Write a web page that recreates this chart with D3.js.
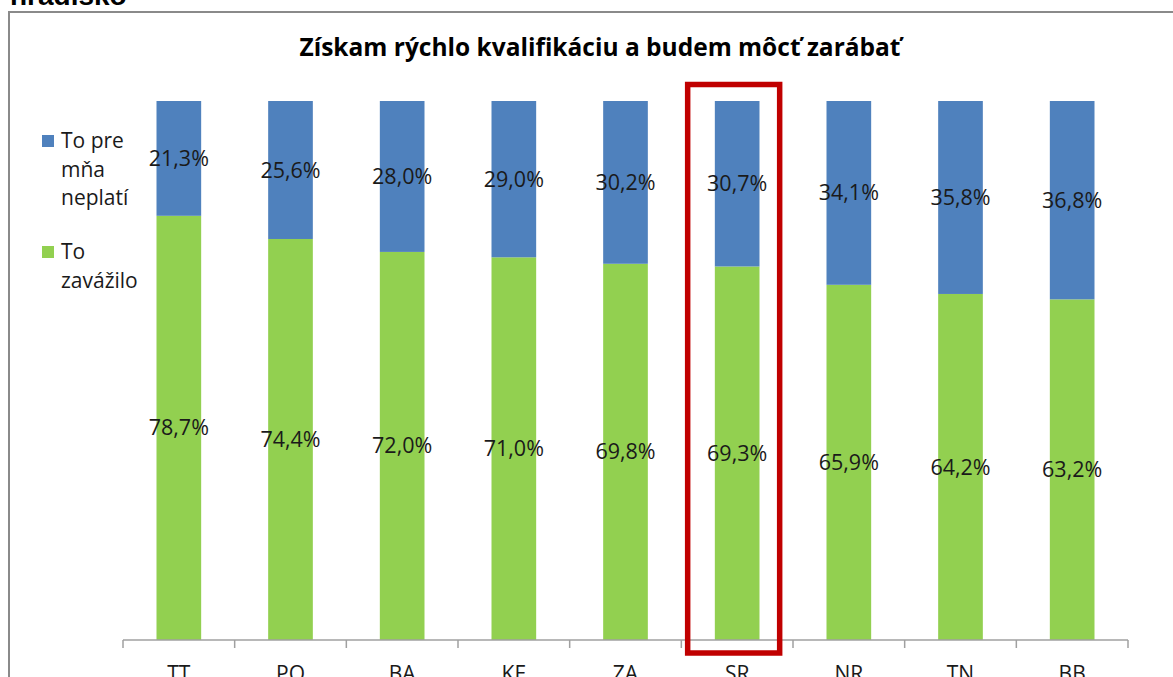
<!DOCTYPE html>
<html>
<head>
<meta charset="utf-8">
<script src="https://cdn.jsdelivr.net/npm/d3@7"></script>
<style>
  body { margin: 0; background: #fff; }
  svg { display: block; font-family: "Open Sans", "Liberation Sans", Arial, sans-serif; }
</style>
</head>
<body>
<div id="chart"></div>
<script>
// Data
const regions = ["TT", "PO", "BA", "KE", "ZA", "SR", "NR", "TN", "BB"];
const zavazilo = [78.7, 74.4, 72.0, 71.0, 69.8, 69.3, 65.9, 64.2, 63.2];
const neplati = [21.3, 25.6, 28.0, 29.0, 30.2, 30.7, 34.1, 35.8, 36.8];
const seriesNames = ["To zavážilo", "To pre mňa neplatí"];
const highlighted = "SR";

const width = 1173;
const height = 677;

const svg = d3.select("#chart").append("svg")
    .attr("width", width)
    .attr("height", height);

// Heading cut off at the top of the page
svg.append("text")
    .attr("x", 10)
    .attr("y", 5)
    .style("font-family", "'Liberation Sans', Arial, sans-serif")
    .style("font-size", "28px")
    .style("font-weight", "bold")
    .text("hradisko");

// Chart frame (runs past right and bottom edges)
svg.append("rect")
    .attr("x", 9)
    .attr("y", 12)
    .attr("width", 1200)
    .attr("height", 700)
    .attr("fill", "none")
    .attr("stroke", "#8a8a8a")
    .attr("stroke-width", 2);

// Title
svg.append("text")
    .attr("x", 600)
    .attr("y", 56)
    .attr("text-anchor", "middle")
    .style("font-size", "24.5px")
    .style("font-weight", "bold")
    .text("Získam rýchlo kvalifikáciu a budem môcť zarábať");

// Scales
const x = d3.scaleBand()
    .domain(regions)
    .range([123, 1128])
    .paddingInner(0.6)
    .paddingOuter(0.3);

const y = d3.scaleLinear()
    .domain([0, 100])
    .range([640, 101]);

const color = d3.scaleOrdinal()
    .domain(seriesNames)
    .range(["#92d050", "#4f81bd"]);

// Build rows for stack
const rows = regions.map((r, i) => ({
    region: r,
    "To zavážilo": zavazilo[i],
    "To pre mňa neplatí": neplati[i]
}));

const stacked = d3.stack().keys(seriesNames)(rows);

const layers = svg.selectAll(".layer")
    .data(stacked)
    .enter()
    .append("g")
    .attr("fill", d => color(d.key));

layers.selectAll("rect")
    .data(d => d)
    .enter()
    .append("rect")
    .attr("x", d => x(d.data.region))
    .attr("y", d => y(d[1]))
    .attr("width", x.bandwidth())
    .attr("height", d => y(d[0]) - y(d[1]));

// Value labels in the middle of each segment
stacked.forEach(layer => {
    svg.append("g")
        .selectAll("text")
        .data(layer)
        .enter()
        .append("text")
        .attr("x", d => x(d.data.region) + x.bandwidth() / 2)
        .attr("y", d => y((d[0] + d[1]) / 2))
        .attr("dy", "0.35em")
        .attr("text-anchor", "middle")
        .style("font-size", "21.5px")
        .attr("fill", "#1a1a1a")
        .text(d => (d[1] - d[0]).toFixed(1).replace(".", ",") + "%");
});

// X axis, ticks between categories
const axis = svg.append("g");
axis.append("line")
    .attr("x1", 123)
    .attr("x2", 1128)
    .attr("y1", 640)
    .attr("y2", 640)
    .attr("stroke", "#a0a0a0")
    .attr("stroke-width", 1.5);

const tickPos = d3.range(regions.length + 1).map(i => 123 + i * (1128 - 123) / regions.length);
axis.selectAll(".tick")
    .data(tickPos)
    .enter()
    .append("line")
    .attr("x1", d => d)
    .attr("x2", d => d)
    .attr("y1", 640)
    .attr("y2", 648)
    .attr("stroke", "#a0a0a0")
    .attr("stroke-width", 1.5);

axis.selectAll(".lbl")
    .data(regions)
    .enter()
    .append("text")
    .attr("x", d => x(d) + x.bandwidth() / 2)
    .attr("y", 681)
    .attr("text-anchor", "middle")
    .style("font-size", "21px")
    .attr("fill", "#1a1a1a")
    .text(d => d);

// Red highlight around SR
const hx = x(highlighted) + x.bandwidth() / 2;
svg.append("rect")
    .attr("x", hx - 49.5)
    .attr("y", 84.5)
    .attr("width", 92)
    .attr("height", 568.5)
    .attr("fill", "none")
    .attr("stroke", "#c00000")
    .attr("stroke-width", 5.5);

// Legend
const legendItems = [
    { key: "To pre mňa neplatí", lines: ["To pre", "mňa", "neplatí"], y: 141 },
    { key: "To zavážilo", lines: ["To", "zavážilo"], y: 252 }
];

const legend = svg.append("g");
legendItems.forEach(item => {
    legend.append("rect")
        .attr("x", 42)
        .attr("y", item.y - 6)
        .attr("width", 12)
        .attr("height", 12)
        .attr("fill", color(item.key));
    const t = legend.append("text")
        .attr("x", 61)
        .attr("y", item.y)
        .style("font-size", "21px")
        .attr("fill", "#1a1a1a");
    item.lines.forEach((ln, i) => {
        t.append("tspan")
            .attr("x", 61)
            .attr("dy", i === 0 ? "0.35em" : "28.5px")
            .text(ln);
    });
});
</script>
</body>
</html>
